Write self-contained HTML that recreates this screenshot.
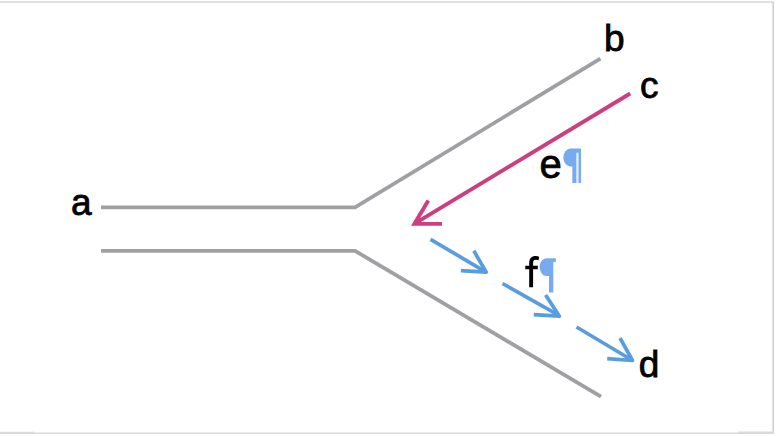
<!DOCTYPE html>
<html><head><meta charset="utf-8">
<style>
html,body{margin:0;padding:0;background:#fff;width:776px;height:436px;overflow:hidden}
svg{position:absolute;left:0;top:0}
.t{position:absolute;font-family:"Liberation Sans",sans-serif;font-size:37px;line-height:1;color:#000;white-space:nowrap;-webkit-text-stroke:0.8px #000}
</style></head><body>
<svg width="776" height="436" viewBox="0 0 776 436">
  <!-- frame -->
  <line x1="0" y1="2" x2="774" y2="2" stroke="#d6d6d6" stroke-width="1.6"/>
  <line x1="773.2" y1="2" x2="773.2" y2="433" stroke="#cfcfcf" stroke-width="1.6"/>
  <line x1="0" y1="433.2" x2="774" y2="433.2" stroke="#d9d9d9" stroke-width="1.4"/>
  <line x1="0" y1="432.8" x2="34" y2="432.8" stroke="#d9d9d9" stroke-width="2"/>
  <line x1="738" y1="432.6" x2="774" y2="432.6" stroke="#d9d9d9" stroke-width="2"/>
  <!-- grey branch -->
  <polyline points="101,207.4 355,207.3 600.4,58.6" fill="none" stroke="#9fa0a3" stroke-width="3.8" stroke-linejoin="miter"/>
  <polyline points="101,250.9 355,250.8 601,396.7" fill="none" stroke="#9fa0a3" stroke-width="3.8" stroke-linejoin="miter"/>
  <!-- magenta arrow -->
  <g stroke="#cd3e80" stroke-width="3.9" fill="none" stroke-linecap="butt" stroke-linejoin="miter">
    <line x1="630.2" y1="93.5" x2="415" y2="223.3"/>
    <polyline points="428.3,200.5 414.4,223.9 442,223.9"/>
  </g>
  <!-- blue arrows -->
  <g stroke="#579de0" stroke-width="3.7" fill="none" stroke-linejoin="round">
    <line x1="430.5" y1="239.3" x2="485.5" y2="271.8"/>
    <polyline points="473.8,250.8 486.2,272.2 460.9,270.6"/>
    <line x1="502.5" y1="283.5" x2="558.5" y2="315.2"/>
    <polyline points="545.6,295 559.4,316.2 533.8,314.6"/>
    <line x1="576.5" y1="327" x2="631" y2="359.5"/>
    <polyline points="620,338 632.5,360.5 607.2,358.6"/>
  </g>
  <!-- f glyph -->
  <path d="M529.2 287.3 L529.2 263.5 C529.2 258.3 531.6 256.1 535.6 256.1 C537 256.1 538.2 256.4 539.1 256.7 L538.6 260.3 C537.8 260 536.9 259.8 536 259.8 C533.8 259.8 533.1 260.8 533.1 263.2 L533.1 287.3 Z M525.3 265.8 L537.8 265.8 L537.8 269.3 L525.3 269.3 Z" fill="#000"/>
  <!-- pilcrows -->
  <path d="M581 148.5 L570.5 148.5 A7.2 9 0 0 0 570.5 166.5 L572.3 166.5 L572.3 183 L581 183 Z" fill="#78aaf0"/>
  <rect x="576.3" y="152.8" width="2.3" height="30.2" fill="#e3edfc"/>
  <path d="M555.8 258.2 L546.5 258.2 A6.9 8.9 0 0 0 546.5 276 L549 276 L549 292.5 L553.3 292.5 L553.3 262 L555.8 262 Z" fill="#78aaf0"/>
</svg>
<div class="t" style="left:71px;top:184px">a</div>
<div class="t" style="left:604px;top:20px">b</div>
<div class="t" style="left:640px;top:67px">c</div>
<div class="t" style="left:638.8px;top:346px">d</div>
<div class="t" style="left:539.5px;top:144px;font-size:40px">e</div>
</body></html>
